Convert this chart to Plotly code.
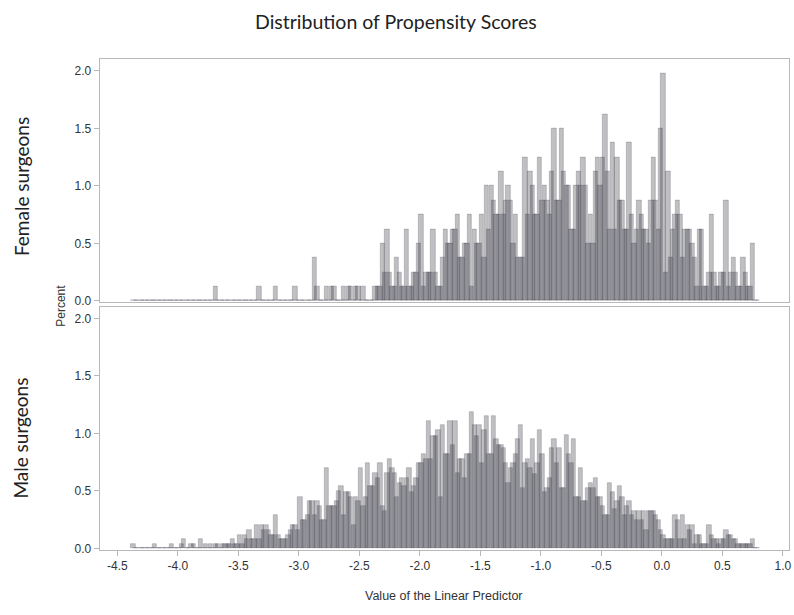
import plotly.graph_objects as go

# ---- data (percent of patients per bin of the linear predictor) ----
bin_start = -4.37      # centre of first bin
bin_width = 0.02

female_pct = [
    0, 0, 0, 0, 0, 0, 0, 0, 0, 0,
    0, 0, 0, 0, 0, 0, 0, 0, 0, 0,
    0, 0, 0, 0, 0, 0, 0, 0, 0, 0,
    0, 0, 0, 0, 0.125, 0, 0, 0, 0, 0,
    0, 0, 0, 0, 0, 0, 0, 0, 0, 0,
    0, 0, 0.125, 0, 0, 0, 0, 0, 0, 0.125,
    0, 0, 0, 0, 0, 0, 0, 0.125, 0, 0,
    0, 0, 0, 0, 0, 0.375, 0.125, 0, 0, 0,
    0.125, 0, 0.125, 0.125, 0, 0, 0, 0.125, 0, 0.125,
    0.125, 0, 0.125, 0.125, 0, 0.125, 0, 0, 0, 0,
    0.125, 0.125, 0.125, 0.5, 0.25, 0.625, 0.25, 0.125, 0.125, 0.375,
    0.25, 0.125, 0.125, 0.625, 0.125, 0.125, 0.25, 0.25, 0.5, 0.75,
    0.125, 0.25, 0.25, 0.25, 0.625, 0.25, 0.125, 0.125, 0.375, 0.625,
    0.5, 0.5, 0.625, 0.625, 0.75, 0.375, 0.375, 0.5, 0.5, 0.75,
    0.125, 0.625, 0.5, 0.5, 0.75, 0.375, 1.0, 0.625, 1.0, 0.875,
    0.75, 0.75, 1.125, 0.75, 0.875, 1.0, 0.875, 0.5, 0.75, 0.375,
    0.375, 0.375, 1.25, 0.75, 1.125, 1.0, 0.75, 0.75, 1.25, 0.875,
    1.0, 0.875, 0.75, 1.125, 1.5, 0.875, 0.875, 1.5, 1.125, 1.0,
    1.0, 0.625, 0.625, 1.0, 1.125, 1.0, 1.25, 1.0, 0.5, 0.75,
    0.5, 1.125, 1.25, 1.0, 1.25, 1.625, 1.125, 0.625, 1.375, 0.625,
    1.25, 0.875, 0.875, 0.625, 0.625, 1.375, 0.75, 0.5, 0.625, 0.875,
    0.75, 0.625, 0.625, 0.5, 0.875, 1.25, 0.875, 0.625, 1.5, 1.98,
    0.25, 1.125, 0.375, 0.625, 0.75, 0.875, 0.75, 0.375, 0.625, 0.625,
    0.625, 0.5, 0.375, 0.125, 0.625, 0.625, 0.125, 0.125, 0.25, 0.75,
    0.25, 0.125, 0.125, 0.25, 0.25, 0.875, 0.125, 0.25, 0.375, 0.25,
    0.125, 0.125, 0.375, 0.25, 0.125, 0.125, 0.5, 0, 0,
]

male_pct = [
    0.04, 0, 0, 0, 0, 0, 0, 0, 0, 0.04,
    0, 0, 0, 0, 0, 0, 0.04, 0, 0, 0,
    0.04, 0.08, 0, 0, 0.04, 0.04, 0, 0, 0.08, 0,
    0.04, 0, 0.04, 0, 0.04, 0.04, 0, 0.04, 0.04, 0.04,
    0.04, 0.08, 0.04, 0.04, 0.12, 0.04, 0.12, 0.08, 0.16, 0.08,
    0.08, 0.2, 0.08, 0.2, 0.16, 0.2, 0.16, 0.12, 0.12, 0.29,
    0.12, 0.08, 0.08, 0.08, 0.12, 0.16, 0.2, 0.2, 0.16, 0.45,
    0.25, 0.25, 0.29, 0.41, 0.41, 0.29, 0.41, 0.37, 0.25, 0.25,
    0.7, 0.37, 0.37, 0.37, 0.41, 0.5, 0.54, 0.29, 0.49, 0.49,
    0.45, 0.2, 0.45, 0.41, 0.7, 0.37, 0.45, 0.74, 0.54, 0.54,
    0.66, 0.61, 0.74, 0.37, 0.33, 0.66, 0.78, 0.7, 0.66, 0.45,
    0.57, 0.61, 0.54, 0.61, 0.7, 0.49, 0.54, 0.61, 0.74, 0.74,
    0.82, 0.78, 1.11, 0.78, 0.98, 0.98, 1.03, 0.45, 1.07, 0.82,
    0.82, 1.11, 0.9, 1.11, 0.66, 0.78, 0.78, 0.61, 0.82, 0.82,
    1.19, 1.07, 0.98, 1.07, 0.74, 1.03, 1.15, 0.82, 0.82, 1.15,
    0.95, 0.9, 0.9, 0.87, 0.74, 0.57, 0.7, 0.74, 0.82, 0.95,
    1.07, 0.53, 0.74, 0.78, 0.7, 0.95, 0.65, 0.74, 1.03, 0.82,
    0.49, 0.53, 0.61, 0.87, 0.95, 0.74, 0.87, 0.53, 0.53, 0.99,
    0.82, 0.74, 0.95, 0.45, 0.45, 0.7, 0.41, 0.41, 0.53, 0.57,
    0.53, 0.61, 0.45, 0.45, 0.37, 0.29, 0.29, 0.57, 0.49, 0.34,
    0.41, 0.54, 0.45, 0.29, 0.37, 0.41, 0.29, 0.33, 0.25, 0.33,
    0.25, 0.33, 0.16, 0.33, 0.33, 0.33, 0.29, 0.25, 0.16, 0.12,
    0.08, 0.08, 0.08, 0.08, 0.29, 0.25, 0.08, 0.29, 0.08, 0.2,
    0.16, 0.2, 0.04, 0.12, 0.12, 0.04, 0.04, 0.04, 0.2, 0.12,
    0.08, 0.08, 0.04, 0.08, 0.08, 0.16, 0.12, 0.12, 0.08, 0.08,
    0.04, 0.04, 0.04, 0.04, 0.04, 0.04, 0.08, 0, 0,
]

x_ticks = [-4.5, -4.0, -3.5, -3.0, -2.5, -2.0, -1.5, -1.0, -0.5, 0.0, 0.5, 1.0]
y_ticks = [0.0, 0.5, 1.0, 1.5, 2.0]

title_text = "Distribution of Propensity Scores"
panel_labels = ["Female surgeons", "Male surgeons"]
x_title = "Value of the Linear Predictor"
y_title = "Percent"

# ---- figure ----
centers = [round(bin_start + i * bin_width, 4) for i in range(len(female_pct))]

W, H = 794, 615


def px(x):
    return x / W


def py(y):
    return 1 - y / H


bar_fill = "rgba(22,22,34,0.27)"
bar_line = "rgba(80,80,92,0.45)"
frame = "#b8b8b8"
tick_font = dict(family="Liberation Sans, Arial, sans-serif", size=12, color="#333333")
label_font = dict(family="Lato, Noto Sans, sans-serif", size=19, color="#222222")

fig = go.Figure()
for vals, xa, ya in [(female_pct, "x", "y"), (male_pct, "x2", "y2")]:
    fig.add_trace(go.Bar(
        x=centers, y=vals, width=bin_width * 1.8,
        marker=dict(color=bar_fill, line=dict(color=bar_line, width=0.6)),
        xaxis=xa, yaxis=ya, showlegend=False, hoverinfo="x+y",
    ))

xdom = [px(100), px(792)]
xrange = [-4.6465, 1.05]
yrange = [-0.01, 2.1]
top_dom = [py(305), py(60)]
bot_dom = [py(555), py(310)]

common_x = dict(domain=xdom, range=xrange, showgrid=False, zeroline=False,
                showline=True, mirror=True, linecolor=frame, linewidth=1)
common_y = dict(range=yrange, showgrid=False, zeroline=False, showline=True,
                mirror=True, linecolor=frame, linewidth=1,
                tickmode="array", tickvals=y_ticks,
                ticktext=[f"{v:.1f}" for v in y_ticks],
                ticks="outside", ticklen=5, tickcolor=frame, tickfont=tick_font)

fig.update_layout(
    width=W, height=H,
    margin=dict(l=0, r=0, t=0, b=0),
    paper_bgcolor="white", plot_bgcolor="white",
    bargap=0,
    xaxis=dict(**common_x, anchor="y", showticklabels=False, ticks=""),
    yaxis=dict(**common_y, domain=top_dom, anchor="x"),
    xaxis2=dict(**common_x, anchor="y2", tickmode="array", tickvals=x_ticks,
                ticktext=[f"{v:.1f}" for v in x_ticks], ticks="outside",
                ticklen=5, tickcolor=frame, tickfont=tick_font,
                ticklabeloverflow="allow"),
    yaxis2=dict(**common_y, domain=bot_dom, anchor="x2"),
    annotations=[
        dict(text=title_text, x=px(398), y=py(22), xref="paper", yref="paper",
             showarrow=False, xanchor="center", yanchor="middle",
             font=dict(family="Lato, Noto Sans, sans-serif", size=19.5, color="#222222")),
        dict(text=panel_labels[0], x=px(21), y=py(188), xref="paper", yref="paper",
             showarrow=False, textangle=-90, xanchor="center", yanchor="middle",
             font=label_font),
        dict(text=panel_labels[1], x=px(21), y=py(442), xref="paper", yref="paper",
             showarrow=False, textangle=-90, xanchor="center", yanchor="middle",
             font=label_font),
        dict(text=y_title, x=px(61), y=py(309), xref="paper", yref="paper",
             showarrow=False, textangle=-90, xanchor="center", yanchor="middle",
             font=dict(family="Liberation Sans, Arial, sans-serif", size=12, color="#333333")),
        dict(text=x_title, x=px(446), y=py(602), xref="paper", yref="paper",
             showarrow=False, xanchor="center", yanchor="middle",
             font=dict(family="Liberation Sans, Arial, sans-serif", size=12.5, color="#333333")),
    ],
)

fig.write_html(
    "out.html",
    config={"displayModeBar": False},
    post_script="document.body.style.margin='0';document.body.style.overflow='hidden';",
)
